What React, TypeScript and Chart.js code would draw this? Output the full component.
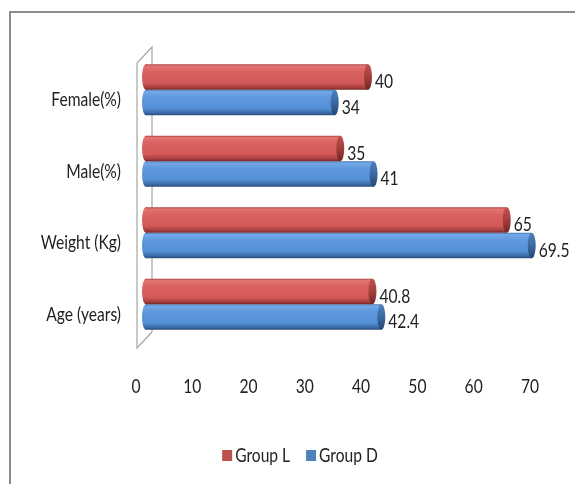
import React, { useEffect, useRef } from 'react';
import { Chart, registerables } from 'chart.js';

Chart.register(...registerables);

// ---- data ----
const categories = ['Female(%)', 'Male(%)', 'Weight (Kg)', 'Age (years)'];
const seriesNames = ['Group L', 'Group D'];
const groupL = [40, 35, 65, 40.8];
const groupD = [34, 41, 69.5, 42.4];
const xTicks = [0, 10, 20, 30, 40, 50, 60, 70];

// ---- styling ----
const FONT_FAMILY = "Lato, 'Open Sans', sans-serif";
const FONT_SIZE = 20;
const SQUEEZE = 0.78; // narrow lettering
const TEXT_COLOR = '#222222';
const legendColors = ['#c0504d', '#4f81bd'];

type Palette = { body: [number, string][]; cap: [number, string][] };
const cylinderPalettes: Palette[] = [
  {
    body: [
      [0, '#a8423f'],
      [0.07, '#e27472'],
      [0.3, '#d9615f'],
      [0.72, '#d35a58'],
      [0.9, '#a9403e'],
      [1, '#762826'],
    ],
    cap: [
      [0, '#c0504d'],
      [0.5, '#a53f3c'],
      [1, '#6e2422'],
    ],
  },
  {
    body: [
      [0, '#4277b6'],
      [0.07, '#74a8e6'],
      [0.3, '#5e98dd'],
      [0.72, '#5590d6'],
      [0.9, '#3c6dab'],
      [1, '#284a7a'],
    ],
    cap: [
      [0, '#4f81bd'],
      [0.5, '#3b69a3'],
      [1, '#26466f'],
    ],
  },
];

function gradient(ctx: CanvasRenderingContext2D, y0: number, y1: number, stops: [number, string][]) {
  const g = ctx.createLinearGradient(0, y0, 0, y1);
  stops.forEach(([o, c]) => g.addColorStop(o, c));
  return g;
}

function narrowText(
  ctx: CanvasRenderingContext2D,
  text: string,
  x: number,
  y: number,
  align: CanvasTextAlign,
) {
  ctx.save();
  ctx.font = `${FONT_SIZE}px ${FONT_FAMILY}`;
  ctx.fillStyle = TEXT_COLOR;
  ctx.textAlign = align;
  ctx.textBaseline = 'middle';
  ctx.translate(x, y);
  ctx.scale(SQUEEZE, 1);
  ctx.fillText(text, 0, 0);
  ctx.restore();
}

function narrowWidth(ctx: CanvasRenderingContext2D, text: string) {
  ctx.save();
  ctx.font = `${FONT_SIZE}px ${FONT_FAMILY}`;
  const w = ctx.measureText(text).width * SQUEEZE;
  ctx.restore();
  return w;
}

// Outer frame, the depth walls, axis labels and the legend
const decorPlugin = {
  id: 'decor',
  beforeDatasetsDraw(chart: any) {
    const { ctx, chartArea, scales } = chart;
    const x0 = scales.x.getPixelForValue(0);
    const front = x0 - 9;
    const back = x0 + 6;
    const topFront = chartArea.top + 9;
    const topBack = chartArea.top - 7;
    const botFront = chartArea.bottom + 8;
    const botBack = chartArea.bottom - 8;
    ctx.save();
    ctx.strokeStyle = '#a6a6a6';
    ctx.lineWidth = 1.2;
    ctx.beginPath();
    ctx.moveTo(back, botBack);
    ctx.lineTo(back, topBack);
    ctx.lineTo(front, topFront);
    ctx.lineTo(front, botFront);
    ctx.lineTo(back, botBack);
    ctx.stroke();
    ctx.restore();
  },
  afterDraw(chart: any) {
    const { ctx, width, height, chartArea, scales } = chart;
    ctx.save();
    // chart border
    ctx.strokeStyle = '#8c8c8c';
    ctx.lineWidth = 2;
    ctx.beginPath();
    ctx.moveTo(10, height + 5);
    ctx.lineTo(10, 12);
    ctx.lineTo(width + 5, 12);
    ctx.stroke();
    ctx.restore();

    // category labels, on the front plane
    const yScale = scales.y;
    categories.forEach((c, i) => {
      narrowText(ctx, c, yScale.right - 25, yScale.getPixelForValue(i) + 10, 'right');
    });

    // value axis labels, projected onto the front plane
    const xScale = scales.x;
    const x0 = xScale.getPixelForValue(0);
    xTicks.forEach((v) => {
      const px = xScale.getPixelForValue(v);
      narrowText(ctx, String(v), px - 10 + (px - x0) * 0.014, chartArea.bottom + 47, 'center');
    });

    // legend
    const boxW = 10;
    const boxH = 11;
    const gap = 3;
    const itemGap = 16;
    const widths = seriesNames.map((n) => narrowWidth(ctx, n));
    const total = widths.reduce((a, w) => a + boxW + gap + w, 0) + itemGap * (seriesNames.length - 1);
    let x = 300 - total / 2;
    const cy = 455.5;
    seriesNames.forEach((name, i) => {
      ctx.fillStyle = legendColors[i];
      ctx.fillRect(x, cy - boxH / 2, boxW, boxH);
      narrowText(ctx, name, x + boxW + gap, cy, 'left');
      x += boxW + gap + widths[i] + itemGap;
    });
  },
};

// Bars drawn as horizontal cylinders, plus value labels
const cylinderPlugin = {
  id: 'cylinders',
  beforeDatasetDraw(chart: any, args: any) {
    const { ctx } = chart;
    const meta = args.meta;
    const pal = cylinderPalettes[args.index];
    ctx.save();
    meta.data.forEach((bar: any) => {
      const { x, y, base, height } = bar.getProps(['x', 'y', 'base', 'height'], true);
      const top = y - height / 2;
      const bottom = y + height / 2;
      const rx = 4;
      const bodyFill = gradient(ctx, top, bottom, pal.body);
      // left end
      ctx.fillStyle = bodyFill;
      ctx.beginPath();
      ctx.ellipse(base, y, rx, height / 2, 0, 0, Math.PI * 2);
      ctx.fill();
      // body
      ctx.fillRect(base, top, x - base, height);
      // right cap
      ctx.fillStyle = gradient(ctx, top, bottom, pal.cap);
      ctx.beginPath();
      ctx.ellipse(x, y, rx, height / 2, 0, 0, Math.PI * 2);
      ctx.fill();
    });
    ctx.restore();
    return false;
  },
  afterDatasetsDraw(chart: any) {
    const { ctx } = chart;
    chart.data.datasets.forEach((ds: any, di: number) => {
      const meta = chart.getDatasetMeta(di);
      meta.data.forEach((bar: any, i: number) => {
        const { x, y } = bar.getProps(['x', 'y'], true);
        narrowText(ctx, String(ds.data[i]), x + 7, y + 5, 'left');
      });
    });
  },
};

export default function App() {
  const canvasRef = useRef<HTMLCanvasElement | null>(null);

  useEffect(() => {
    document.body.style.margin = '0';
    const canvas = canvasRef.current;
    if (!canvas) return;
    const chart = new Chart(canvas, {
      type: 'bar',
      data: {
        labels: categories,
        datasets: [
          { label: seriesNames[0], data: groupL, backgroundColor: legendColors[0] },
          { label: seriesNames[1], data: groupD, backgroundColor: legendColors[1] },
        ],
      },
      options: {
        indexAxis: 'y',
        animation: false,
        responsive: false,
        devicePixelRatio: 1,
        layout: { padding: { top: 54, right: 40.5, left: 0, bottom: 84 } },
        datasets: { bar: { categoryPercentage: 0.713, barPercentage: 1 } },
        scales: {
          x: {
            min: 0,
            max: 70,
            afterBuildTicks: (s: any) => {
              s.ticks = xTicks.map((v) => ({ value: v }));
            },
            afterFit: (s: any) => {
              s.height = 60;
            },
            ticks: { display: false },
            grid: { display: false, drawTicks: false },
            border: { display: false },
          },
          y: {
            afterFit: (s: any) => {
              s.width = 146;
            },
            ticks: { display: false },
            grid: { display: false, drawTicks: false },
            border: { display: false },
          },
        },
        plugins: {
          legend: { display: false },
          tooltip: { enabled: false },
        },
      },
      plugins: [decorPlugin, cylinderPlugin],
    });
    return () => chart.destroy();
  }, []);

  return (
    <div style={{ width: 575, height: 484, background: '#fff' }}>
      <canvas ref={canvasRef} width={575} height={484} style={{ display: 'block' }} />
    </div>
  );
}
